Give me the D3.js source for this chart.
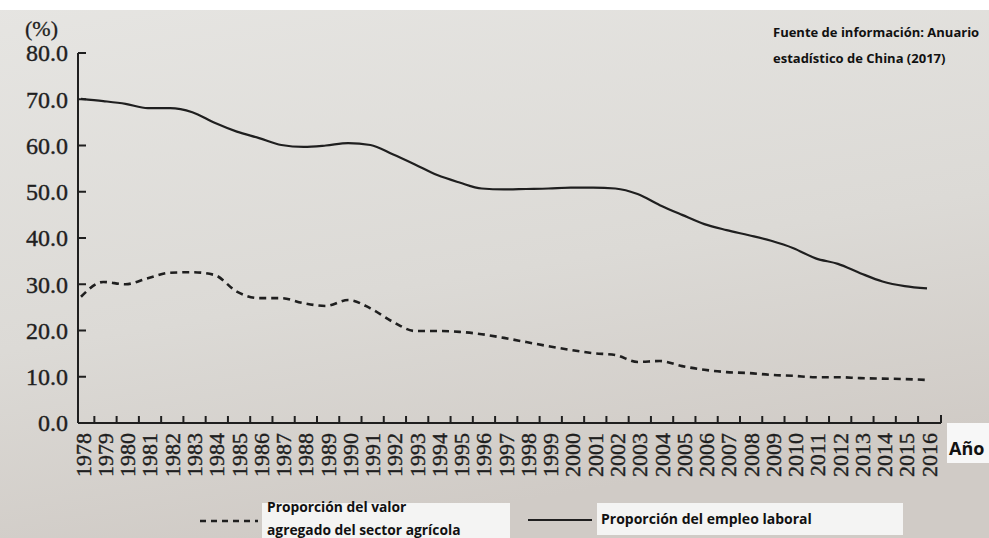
<!DOCTYPE html>
<html>
<head>
<meta charset="utf-8">
<script src="https://cdn.jsdelivr.net/npm/d3@7"></script>
<style>
	html, body { margin: 0; padding: 0; background: #fff; }
	svg { display: block; }
</style>
</head>
<body>
<div id="chart"></div>
<script>
// Years on the x axis
const years = d3.range(1978, 2017);

// Proporción del empleo laboral (%) - solid line
const employment = [70.1, 69.6, 69.0, 68.1, 68.1, 67.2, 64.9, 63.0, 61.6, 60.1, 59.7, 60.0, 60.5, 60.1, 58.1, 55.9, 53.6, 52.0, 50.7, 50.5, 50.6, 50.7, 50.9, 50.9, 50.7, 49.5, 47.1, 45.0, 43.0, 41.7, 40.6, 39.4, 37.8, 35.6, 34.4, 32.4, 30.6, 29.6, 29.1];

// Proporción del valor agregado del sector agrícola (%) - dashed line
const valueAdded = [27.3, 30.5, 30.0, 31.3, 32.5, 32.6, 32.0, 28.4, 27.0, 27.0, 25.9, 25.3, 26.6, 24.8, 21.9, 19.9, 19.9, 19.7, 19.2, 18.4, 17.5, 16.6, 15.8, 15.1, 14.7, 13.2, 13.4, 12.3, 11.5, 11.0, 10.8, 10.4, 10.2, 9.9, 9.9, 9.7, 9.6, 9.5, 9.3];

const yTicks = [0, 10, 20, 30, 40, 50, 60, 70, 80];

const width = 989;
const height = 538;
const ink = '#1f1f1f';
const serif = '"Liberation Serif", "DejaVu Serif", serif';
const sans = '"Open Sans", "Noto Sans", sans-serif';

const svg = d3.select('#chart').append('svg').attr('width', width).attr('height', height);

// Paper background (photo of a printed page)
const defs = svg.append('defs');
const grad = defs.append('linearGradient').attr('id', 'paper').attr('x1', 0).attr('y1', 0).attr('x2', 0.3).attr('y2', 1);
grad.append('stop').attr('offset', '0%').attr('stop-color', '#e6e5e2');
grad.append('stop').attr('offset', '60%').attr('stop-color', '#dcdad6');
grad.append('stop').attr('offset', '100%').attr('stop-color', '#d0cbc6');
svg.append('rect').attr('width', width).attr('height', height).attr('fill', 'url(#paper)');
svg.append('rect').attr('width', width).attr('height', 10).attr('fill', '#ffffff');

// Scales
const x = d3.scaleLinear().domain([1978, 2016]).range([81, 927]);
const y = d3.scaleLinear().domain([0, 80]).range([423, 53]);
const x0 = 78;
const xEnd = 941;

const axes = svg.append('g').attr('stroke', ink).attr('stroke-width', 2).attr('fill', 'none');

// Y axis
axes.append('line').attr('x1', x0).attr('x2', x0).attr('y1', y(80)).attr('y2', y(0));
axes.selectAll('.ytick').data(yTicks.slice(1)).enter().append('line')
	.attr('x1', x0).attr('x2', x0 + 8)
	.attr('y1', (d) => y(d)).attr('y2', (d) => y(d));

// X axis
axes.append('line').attr('x1', x0).attr('x2', xEnd).attr('y1', y(0)).attr('y2', y(0));
axes.selectAll('.xtick').data(years.slice(0, -1)).enter().append('line')
	.attr('x1', (d) => x(d + 0.6)).attr('x2', (d) => x(d + 0.6))
	.attr('y1', y(0)).attr('y2', y(0) - 7);
axes.append('line').attr('x1', xEnd).attr('x2', xEnd).attr('y1', y(0)).attr('y2', y(0) - 8);

// Y tick labels
svg.append('g').selectAll('text').data(yTicks).enter().append('text')
	.attr('x', 68).attr('y', (d) => y(d)).attr('dy', '0.35em')
	.attr('text-anchor', 'end')
	.style('font-family', serif).style('font-size', '24px').attr('fill', ink)
	.attr('stroke', ink).attr('stroke-width', 0.4)
	.text((d) => d.toFixed(1));

svg.append('text').attr('x', 25).attr('y', 36)
	.style('font-family', serif).style('font-size', '22px').attr('fill', ink)
	.attr('stroke', ink).attr('stroke-width', 0.3)
	.text('(%)');

// X tick labels (rotated)
svg.append('g').selectAll('text').data(years).enter().append('text')
	.attr('transform', (d) => `translate(${x(d) + 2},433) rotate(-90)`)
	.attr('dy', '0.35em')
	.attr('text-anchor', 'end')
	.style('font-family', serif).style('font-size', '22px').attr('fill', ink)
	.attr('stroke', ink).attr('stroke-width', 0.4)
	.text((d) => d);

// Lines
const line = d3.line().x((d, i) => x(years[i])).y((d) => y(d)).curve(d3.curveMonotoneX);

svg.append('path').datum(valueAdded).attr('d', line)
	.attr('fill', 'none').attr('stroke', ink).attr('stroke-width', 2.6)
	.attr('stroke-dasharray', '7,5');

svg.append('path').datum(employment).attr('d', line)
	.attr('fill', 'none').attr('stroke', ink).attr('stroke-width', 2.2);

// "Año" label box
svg.append('rect').attr('x', 947).attr('y', 423).attr('width', 42).attr('height', 40).attr('fill', '#f7f7f7');
svg.append('text').attr('x', 949).attr('y', 455)
	.style('font-family', sans).style('font-size', '18px').style('font-weight', 700).attr('fill', '#111')
	.text('Año');

// Source note
const note = svg.append('g').style('font-family', sans).style('font-size', '13px').style('font-weight', 700).attr('fill', '#111');
note.append('text').attr('x', 773).attr('y', 37).text('Fuente de información: Anuario');
note.append('text').attr('x', 773).attr('y', 63).text('estadístico de China (2017)');

// Legend
const legend = svg.append('g');
legend.append('line').attr('x1', 200).attr('x2', 258).attr('y1', 521).attr('y2', 521)
	.attr('stroke', ink).attr('stroke-width', 2.4).attr('stroke-dasharray', '6,5');
legend.append('rect').attr('x', 262).attr('y', 503).attr('width', 248).attr('height', 35).attr('fill', '#f4f4f3');
legend.append('text').attr('x', 267).attr('y', 512)
	.style('font-family', sans).style('font-size', '13.8px').style('font-weight', 700).attr('fill', '#111')
	.text('Proporción del valor');
legend.append('text').attr('x', 267).attr('y', 535)
	.style('font-family', sans).style('font-size', '13.8px').style('font-weight', 700).attr('fill', '#111')
	.text('agregado del sector agrícola');

legend.append('line').attr('x1', 528).attr('x2', 592).attr('y1', 520).attr('y2', 520)
	.attr('stroke', ink).attr('stroke-width', 2.2);
legend.append('rect').attr('x', 597).attr('y', 503).attr('width', 306).attr('height', 32).attr('fill', '#f4f4f3');
legend.append('text').attr('x', 601).attr('y', 524)
	.style('font-family', sans).style('font-size', '14px').style('font-weight', 700).attr('fill', '#111')
	.text('Proporción del empleo laboral');
</script>
</body>
</html>
